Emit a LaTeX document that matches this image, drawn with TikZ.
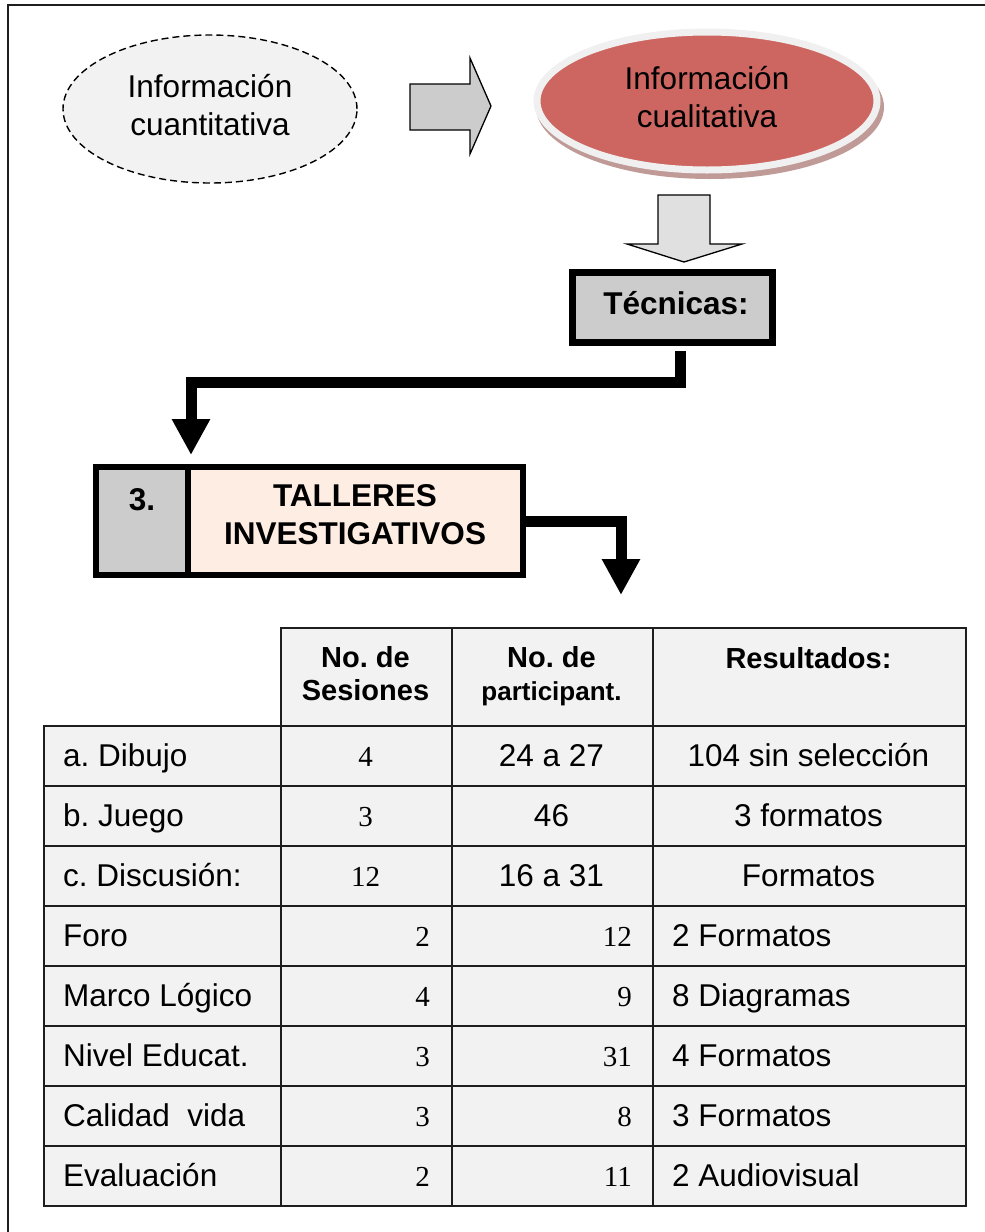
\documentclass[tikz,border=0pt]{standalone}
\usepackage{fontspec}
\setmainfont{Liberation Sans}
\newfontfamily\serifnum{Liberation Serif}
\usetikzlibrary{shapes.geometric,arrows.meta}
\frenchspacing
\definecolor{lgray}{HTML}{F2F2F2}
\definecolor{midgray}{HTML}{CCCCCC}
\definecolor{arrgray}{HTML}{E0E0E0}
\definecolor{redell}{HTML}{CD6660}
\definecolor{shadowred}{HTML}{BF9A97}
\definecolor{rimgray}{HTML}{F0F0F0}
\definecolor{peach}{HTML}{FDEDE2}
\definecolor{linegray}{HTML}{1E1E1E}
\tikzset{
  txt/.style={font=\fontsize{31.5}{38}\selectfont, inner sep=0pt, align=center},
  btxt/.style={font=\fontsize{31.5}{38}\selectfont\bfseries, inner sep=0pt, align=center},
  htxt/.style={font=\fontsize{29}{33}\selectfont\bfseries, inner sep=0pt, align=center},
  dtxt/.style={font=\fontsize{31.5}{38}\selectfont, inner sep=0pt},
  ntxt/.style={font=\fontsize{29}{34}\serifnum, inner sep=0pt},
  blockarr/.style={draw=black, line width=1.3pt, line join=miter},
  conn/.style={draw=black, line width=11pt, line join=miter, -{Triangle[width=36pt,length=36pt]}},
  cell/.style={draw=linegray, line width=2pt, fill=lgray, minimum height=60pt, inner sep=0pt, anchor=north west},
  framebox/.style={draw=linegray, line width=2pt},
}
\begin{document}
\frenchspacing
\begin{tikzpicture}[x=1pt,y=-1pt]
\useasboundingbox (0,0) rectangle (985,1232);
\draw[framebox] (8,1232) -- (8,5) -- (985,5);

% quantitative ellipse
\node[ellipse, draw=black, line width=1.4pt, dash pattern=on 7pt off 4pt, fill=lgray,
      minimum width=294pt, minimum height=148pt, inner sep=0pt] (quant) at (210,109) {};
\node[txt] (quanttxt) at (210,105) {Información\\cuantitativa};

% right block arrow
\draw[blockarr, fill=midgray] (410,84) -- (470,84) -- (470,58) -- (491,106) -- (470,154) -- (470,130) -- (410,130) -- cycle;

% qualitative ellipse
\fill[shadowred] (710,107) ellipse [x radius=174, y radius=72];
\node[ellipse, fill=redell, draw=rimgray, line width=7pt,
      minimum width=340pt, minimum height=138pt, inner sep=0pt] (qual) at (707,101) {};
\node[txt] (qualtxt) at (707,97) {Información\\cualitativa};

% down block arrow
\draw[blockarr, fill=arrgray] (658,195) -- (710,195) -- (710,244) -- (742,244) -- (684,262) -- (627,244) -- (658,244) -- cycle;

% Tecnicas box
\node[draw=black, line width=7pt, fill=midgray, minimum width=200pt, minimum height=70pt, inner sep=0pt] (tec) at (672.5,307.5) {};
\node[btxt] (tectxt) at (676,303) {Técnicas:};

% Talleres box
\node[draw=black, line width=6pt, fill=midgray, minimum width=92pt, minimum height=108pt, inner sep=0pt] (num) at (142,521) {};
\node[draw=black, line width=6pt, fill=peach, minimum width=335pt, minimum height=108pt, inner sep=0pt] (title) at (355.5,521) {};
\node[btxt, anchor=base] (numtxt) at (142,510) {3.};
\node[btxt] (titletxt) at (355,515) {TALLERES\\INVESTIGATIVOS};

% connectors
\draw[conn] ([xshift=7.5pt,yshift=-5pt]tec.south) -- ++(0,31) -| ([yshift=9pt]num.north east);
\coordinate (tabtop) at (621,595);
\draw[conn] (title.east) -| (tabtop);

% table header
\foreach \c/\x/\w in {2/280/171,3/451/201,4/652/313}
  \node[cell, minimum width=\w pt, minimum height=98pt] (h\c) at (\x,627) {};
\node[htxt] (h2txt) at (365.5,674) {No. de\\Sesiones};
\node[htxt] (h3txt) at (551.5,676) {No. de\\{\fontsize{26}{33}\selectfont participant.}};
\node[htxt, anchor=base] (h4txt) at (808.5,668) {Resultados:};

% table body
\foreach \r in {1,...,8}
  \foreach \c/\x/\w in {1/43/237,2/280/171,3/451/201,4/652/313}
    \node[cell, minimum width=\w pt] (r\r c\c) at (\x,{725+60*(\r-1)}) {};

\foreach \r/\name in {1/a. Dibujo,2/b. Juego,3/c. Discusión:,4/Foro,5/Marco Lógico,6/Nivel Educat.,7/Calidad~ vida,8/Evaluación}
  \node[dtxt, anchor=base west] (n\r) at (63,{766+60*(\r-1)}) {\name};

\foreach \r/\v in {1/4,2/3,3/12}
  \node[ntxt, anchor=base] (s\r) at (365.5,{766+60*(\r-1)}) {\v};
\foreach \r/\v in {4/2,5/4,6/3,7/3,8/2}
  \node[ntxt, anchor=base east] (s\r) at (430,{766+60*(\r-1)}) {\v};

\foreach \r/\v in {1/24 a 27,2/46,3/16 a 31}
  \node[dtxt, anchor=base] (p\r) at (551.5,{766+60*(\r-1)}) {\v};
\foreach \r/\v in {4/12,5/9,6/31,7/8,8/11}
  \node[ntxt, anchor=base east] (p\r) at (632,{766+60*(\r-1)}) {\v};

\foreach \r/\v in {1/104 sin selección,2/3 formatos,3/Formatos}
  \node[dtxt, anchor=base] (q\r) at (808.5,{766+60*(\r-1)}) {\v};
\foreach \r/\v in {4/2 Formatos,5/8 Diagramas,6/4 Formatos,7/3 Formatos,8/2 Audiovisual}
  \node[dtxt, anchor=base west] (q\r) at (672,{766+60*(\r-1)}) {\v};
\end{tikzpicture}
\end{document}
